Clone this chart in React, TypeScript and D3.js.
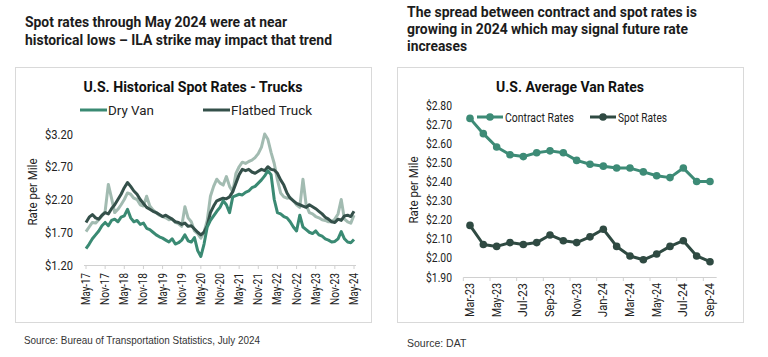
import React from "react";
import * as d3 from "d3";

// ---------- Left chart data (monthly, May-17 .. May-24) ----------
const dryVan = [1.45,1.52,1.60,1.66,1.72,1.80,1.85,1.80,1.88,1.90,1.86,1.93,1.95,2.05,1.92,1.86,1.88,1.82,1.84,1.76,1.74,1.70,1.66,1.63,1.61,1.58,1.55,1.60,1.52,1.54,1.58,1.66,1.57,1.55,1.62,1.42,1.33,1.52,1.78,1.88,1.95,2.02,2.08,2.18,2.12,2.00,2.24,2.26,2.28,2.27,2.31,2.33,2.38,2.40,2.45,2.50,2.56,2.64,2.58,2.20,2.00,1.98,1.94,1.92,1.86,1.78,1.72,1.96,1.78,1.74,1.70,1.68,1.72,1.66,1.64,1.60,1.58,1.55,1.56,1.60,1.71,1.60,1.55,1.54,1.59];
const flatbed = [1.85,1.93,1.97,1.92,1.90,1.96,2.00,1.98,2.06,2.12,2.20,2.28,2.38,2.46,2.40,2.33,2.28,2.20,2.14,2.08,2.05,2.02,2.00,1.97,1.94,1.96,1.93,1.90,1.86,1.85,1.82,1.84,1.79,1.80,1.75,1.70,1.66,1.70,1.80,2.00,2.10,2.18,2.20,2.22,2.21,2.24,2.32,2.45,2.58,2.66,2.64,2.66,2.62,2.60,2.63,2.66,2.64,2.70,2.66,2.65,2.60,2.50,2.42,2.30,2.22,2.18,2.14,2.12,2.10,2.08,2.12,2.09,2.06,2.02,1.98,1.93,1.90,1.86,1.85,1.90,1.88,1.95,1.96,1.94,2.02];
const reefer = [1.71,1.78,1.85,1.84,1.89,1.95,2.02,2.43,2.22,2.00,2.05,2.12,2.20,2.30,2.28,2.22,2.20,2.12,2.10,2.25,2.10,2.04,2.00,1.96,1.94,1.92,1.89,1.90,1.85,1.83,1.79,2.09,1.92,1.86,1.72,1.68,1.61,1.70,1.88,2.25,2.40,2.51,2.45,2.42,2.55,2.40,2.32,2.60,2.70,2.77,2.75,2.78,2.80,2.84,2.90,3.00,3.20,3.12,2.92,2.75,2.50,2.30,2.24,2.22,2.23,2.18,2.12,2.08,2.51,2.12,2.00,1.98,1.94,1.92,1.89,1.88,1.86,1.86,1.90,1.98,2.20,1.90,1.86,1.84,1.96];
const leftTickLabels = ["May-17","Nov-17","May-18","Nov-18","May-19","Nov-19","May-20","Nov-20","May-21","Nov-21","May-22","Nov-22","May-23","Nov-23","May-24"];
const leftYTicks = [1.2, 1.7, 2.2, 2.7, 3.2];

// ---------- Right chart data ----------
const rightMonths = ["Mar-23","Apr-23","May-23","Jun-23","Jul-23","Aug-23","Sep-23","Oct-23","Nov-23","Dec-23","Jan-24","Feb-24","Mar-24","Apr-24","May-24","Jun-24","Jul-24","Aug-24","Sep-24"];
const contractRates = [2.73,2.65,2.58,2.54,2.53,2.55,2.56,2.55,2.51,2.49,2.48,2.47,2.47,2.45,2.43,2.42,2.47,2.40,2.40];
const spotRates = [2.17,2.07,2.06,2.08,2.07,2.08,2.12,2.09,2.08,2.11,2.15,2.06,2.01,1.99,2.02,2.06,2.09,2.01,1.98];
const rightYTicks = [1.9,2.0,2.1,2.2,2.3,2.4,2.5,2.6,2.7,2.8];

const C_DRY = "#3a8a73";
const C_FLAT = "#34504a";
const C_REEF = "#a2bbb1";
const C_CONTRACT = "#3d8b76";
const C_SPOT = "#2f4a42";
const FONT = "Roboto, 'Noto Sans', sans-serif";

export default function App() {
  // Left scales
  const lx = d3.scaleLinear().domain([0, 84]).range([86, 354]);
  const ly = d3.scaleLinear().domain([1.2, 3.2]).range([265, 134]);
  const lline = d3.line<number>().x((_, i) => lx(i)).y((d) => ly(d)).curve(d3.curveLinear);

  // Right scales
  const rx = d3.scaleLinear().domain([0, 18]).range([470, 710]);
  const ry = d3.scaleLinear().domain([1.9, 2.8]).range([277, 105]);
  const rline = d3.line<number>().x((_, i) => rx(i)).y((d) => ry(d));

  const fmt = (v: number) => "$" + v.toFixed(2);

  return (
    <svg width={768} height={357} style={{ position: "absolute", left: 0, top: 0, background: "#fff" }} fontFamily={FONT}>
      {/* Headings */}
      <g fill="#1c1c1c" fontWeight={700} fontSize={15}>
        <text x={25} y={27} textLength={262} lengthAdjust="spacingAndGlyphs">Spot rates through May 2024 were at near</text>
        <text x={25} y={45} textLength={307} lengthAdjust="spacingAndGlyphs">historical lows – ILA strike may impact that trend</text>
        <text x={407} y={17} textLength={290} lengthAdjust="spacingAndGlyphs">The spread between contract and spot rates is</text>
        <text x={407} y={34} textLength={281} lengthAdjust="spacingAndGlyphs">growing in 2024 which may signal future rate</text>
        <text x={407} y={51} textLength={60} lengthAdjust="spacingAndGlyphs">increases</text>
      </g>

      {/* Panels */}
      <rect x={15.5} y={67.5} width={356} height={255} fill="#fff" stroke="#d9d9d9" />
      <rect x={397.5} y={67.5} width={346} height={255} fill="#fff" stroke="#d9d9d9" />

      {/* ---------- Left chart ---------- */}
      <text x={193} y={92} textAnchor="middle" fontWeight={700} fontSize={15} fill="#111" textLength={219} lengthAdjust="spacingAndGlyphs">U.S. Historical Spot Rates - Trucks</text>
      <line x1={80} x2={107} y1={110} y2={110} stroke={C_DRY} strokeWidth={3} />
      <text x={108} y={114.5} fontSize={13} fill="#222" textLength={46} lengthAdjust="spacingAndGlyphs">Dry Van</text>
      <line x1={203} x2={230} y1={110} y2={110} stroke={C_FLAT} strokeWidth={3} />
      <text x={231} y={114.5} fontSize={13} fill="#222" textLength={81} lengthAdjust="spacingAndGlyphs">Flatbed Truck</text>

      {leftYTicks.map((t) => (
        <text key={t} x={73} y={ly(t) + 4.5} textAnchor="end" fontSize={12.5} fill="#222" textLength={28} lengthAdjust="spacingAndGlyphs">{fmt(t)}</text>
      ))}
      <text transform={`translate(37,192) rotate(-90)`} textAnchor="middle" fontSize={12.5} fill="#222" textLength={67} lengthAdjust="spacingAndGlyphs">Rate per Mile</text>

      <line x1={84} x2={356} y1={265.5} y2={265.5} stroke="#d0d0d0" />
      {leftTickLabels.map((lab, i) => {
        const x = lx(i * 6);
        return (
          <g key={lab}>
            <line x1={x} x2={x} y1={265.5} y2={269} stroke="#d0d0d0" />
            <text transform={`translate(${x + 4},273) rotate(-90)`} textAnchor="end" fontSize={12} fill="#222" textLength={32} lengthAdjust="spacingAndGlyphs">{lab}</text>
          </g>
        );
      })}

      <path d={lline(reefer) || ""} fill="none" stroke={C_REEF} strokeWidth={3} strokeLinejoin="round" />
      <path d={lline(flatbed) || ""} fill="none" stroke={C_FLAT} strokeWidth={3} strokeLinejoin="round" />
      <path d={lline(dryVan) || ""} fill="none" stroke={C_DRY} strokeWidth={3} strokeLinejoin="round" />

      <text x={24} y={344} fontFamily="'Liberation Sans', Arial, sans-serif" fontSize={10.5} fill="#333" textLength={236} lengthAdjust="spacingAndGlyphs">Source: Bureau of Transportation Statistics, July 2024</text>

      {/* ---------- Right chart ---------- */}
      <text x={570} y={92} textAnchor="middle" fontWeight={700} fontSize={15} fill="#111" textLength={148} lengthAdjust="spacingAndGlyphs">U.S. Average Van Rates</text>
      <line x1={477} x2={503} y1={117} y2={117} stroke={C_CONTRACT} strokeWidth={3} />
      <circle cx={490} cy={117} r={3.8} fill={C_CONTRACT} />
      <text x={505} y={121.5} fontSize={13} fill="#222" textLength={69} lengthAdjust="spacingAndGlyphs">Contract Rates</text>
      <line x1={590} x2={616} y1={117} y2={117} stroke={C_SPOT} strokeWidth={3} />
      <circle cx={603} cy={117} r={3.8} fill={C_SPOT} />
      <text x={618} y={121.5} fontSize={13} fill="#222" textLength={49} lengthAdjust="spacingAndGlyphs">Spot Rates</text>

      {rightYTicks.map((t) => (
        <text key={t} x={452} y={ry(t) + 4.5} textAnchor="end" fontSize={12.5} fill="#222" textLength={26} lengthAdjust="spacingAndGlyphs">{fmt(t)}</text>
      ))}
      <text transform={`translate(418,190) rotate(-90)`} textAnchor="middle" fontSize={12.5} fill="#222" textLength={67} lengthAdjust="spacingAndGlyphs">Rate per Mile</text>

      <line x1={rx(-0.5)} x2={rx(18.5)} y1={277.5} y2={277.5} stroke="#d0d0d0" />
      {rightMonths.map((m, i) => {
        if (i % 2 !== 0) return null;
        const x = rx(i);
        const tx = rx(i - 0.5);
        return (
          <g key={m}>
            <line x1={tx} x2={tx} y1={277.5} y2={281} stroke="#d0d0d0" />
            <text transform={`translate(${x + 4},283) rotate(-90)`} textAnchor="end" fontSize={12} fill="#222" textLength={34} lengthAdjust="spacingAndGlyphs">{m}</text>
          </g>
        );
      })}

      <path d={rline(contractRates) || ""} fill="none" stroke={C_CONTRACT} strokeWidth={3} strokeLinejoin="round" />
      {contractRates.map((v, i) => (
        <circle key={"c" + i} cx={rx(i)} cy={ry(v)} r={3.8} fill={C_CONTRACT} />
      ))}
      <path d={rline(spotRates) || ""} fill="none" stroke={C_SPOT} strokeWidth={3} strokeLinejoin="round" />
      {spotRates.map((v, i) => (
        <circle key={"s" + i} cx={rx(i)} cy={ry(v)} r={3.8} fill={C_SPOT} />
      ))}

      <text x={407} y={347} fontFamily="'Liberation Sans', Arial, sans-serif" fontSize={10.5} fill="#333">Source: DAT</text>
    </svg>
  );
}
